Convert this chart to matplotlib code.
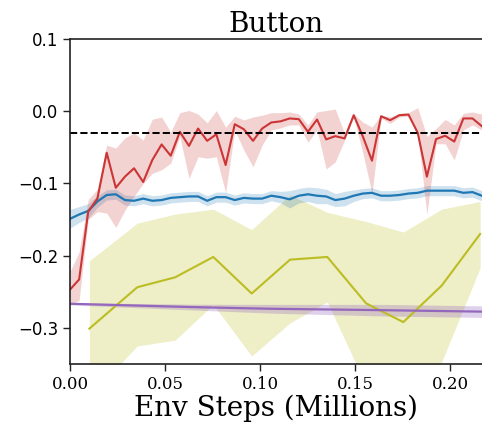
import matplotlib
matplotlib.use("Agg")
import matplotlib.pyplot as plt
import numpy as np

# Evaluation steps (millions) for the dense runs
steps = [0.0000, 0.0048, 0.0096, 0.0144, 0.0193, 0.0241, 0.0289, 0.0337,
         0.0385, 0.0433, 0.0482, 0.0530, 0.0578, 0.0626, 0.0674, 0.0722,
         0.0770, 0.0819, 0.0867, 0.0915, 0.0963, 0.1011, 0.1059, 0.1108,
         0.1156, 0.1204, 0.1252, 0.1300, 0.1348, 0.1396, 0.1445, 0.1493,
         0.1541, 0.1589, 0.1637, 0.1685, 0.1733, 0.1781, 0.1830, 0.1878,
         0.1926, 0.1974, 0.2022, 0.2070, 0.2118, 0.2167]

red_mean = [-0.247, -0.233, -0.139, -0.121, -0.0575, -0.106, -0.0906, -0.079,
            -0.098, -0.0676, -0.046, -0.0616, -0.0285, -0.048, -0.024, -0.041,
            -0.032, -0.0745, -0.018, -0.025, -0.041, -0.024, -0.0156, -0.014,
            -0.010, -0.011, -0.0285, -0.0115, -0.039, -0.0345, -0.0377, -0.0055,
            -0.035, -0.0685, -0.0069, -0.0124, -0.0055, -0.0046, -0.030, -0.0906,
            -0.0386, -0.034, -0.042, -0.010, -0.010, -0.0207]
red_upper = [-0.222, -0.195, -0.122, -0.108, -0.047, -0.051, -0.037, -0.030,
             -0.040, -0.011, -0.008, -0.029, -0.002, 0.001, -0.004, -0.016,
             0.001, -0.022, -0.007, -0.012, -0.008, -0.0055, -0.002, -0.002,
             -0.001, -0.004, -0.019, -0.001, 0.001, 0.003, -0.031, -0.004,
             -0.015, -0.022, -0.0055, -0.008, -0.003, -0.002, 0.005, -0.035,
             -0.024, -0.0115, -0.019, -0.003, -0.001, -0.004]
red_lower = [-0.268, -0.262, -0.150, -0.139, -0.141, -0.161, -0.137, -0.118,
             -0.100, -0.086, -0.081, -0.072, -0.035, -0.093, -0.063, -0.065,
             -0.063, -0.113, -0.026, -0.054, -0.077, -0.047, -0.026, -0.023,
             -0.019, -0.019, -0.043, -0.026, -0.080, -0.070, -0.040, -0.008,
             -0.058, -0.1135, -0.0096, -0.017, -0.008, -0.007, -0.031, -0.143,
             -0.045, -0.045, -0.0676, -0.026, -0.019, -0.026]

blue_mean = [-0.149, -0.143, -0.138, -0.125, -0.116, -0.115, -0.123, -0.124,
             -0.121, -0.124, -0.123, -0.120, -0.119, -0.118, -0.118, -0.124,
             -0.119, -0.119, -0.123, -0.120, -0.121, -0.121, -0.117, -0.119,
             -0.122, -0.117, -0.115, -0.117, -0.118, -0.123, -0.121, -0.117,
             -0.114, -0.113, -0.117, -0.117, -0.116, -0.114, -0.113, -0.110,
             -0.110, -0.110, -0.110, -0.113, -0.112, -0.117]
blue_spread = [0.013, 0.011, 0.010, 0.008, 0.007, 0.007, 0.007, 0.007,
               0.007, 0.007, 0.007, 0.007, 0.007, 0.007, 0.007, 0.007,
               0.007, 0.007, 0.007, 0.007, 0.007, 0.007, 0.007, 0.008,
               0.012, 0.010, 0.010, 0.011, 0.010, 0.009, 0.010, 0.008,
               0.007, 0.007, 0.007, 0.007, 0.007, 0.007, 0.007, 0.007,
               0.007, 0.007, 0.007, 0.007, 0.007, 0.007]

# Sparse evaluations
olive_steps = [0.0102, 0.0354, 0.0553, 0.0754, 0.0956, 0.1158, 0.1354,
               0.1558, 0.1754, 0.1956, 0.2158]
olive_mean = [-0.301, -0.2437, -0.230, -0.2018, -0.2524, -0.2055, -0.2018,
              -0.266, -0.292, -0.2414, -0.170]
olive_upper = [-0.207, -0.155, -0.1425, -0.1356, -0.164, -0.116, -0.140,
               -0.1527, -0.1673, -0.1356, -0.125]
olive_lower = [-0.395, -0.325, -0.317, -0.2676, -0.339, -0.293, -0.264,
               -0.380, -0.417, -0.347, -0.217]

purple_steps = [0.0, 0.066, 0.105, 0.165, 0.2168]
purple_mean = [-0.2666, -0.2713, -0.2735, -0.2755, -0.2775]
purple_spread = [0.0015, 0.004, 0.006, 0.008, 0.008]

baseline = -0.03

RED = "#cc3535"
BLUE = "#1f77b4"
OLIVE = "#bcbd22"
PURPLE = "#9467bd"

fig = plt.figure(figsize=(4.82, 4.32), dpi=100)
ax = fig.add_axes([70 / 482, 68 / 432, 412 / 482, 325 / 432])

# Olive run
ax.fill_between(olive_steps, olive_lower, olive_upper, color=OLIVE, alpha=0.25, lw=0)
ax.plot(olive_steps, olive_mean, color=OLIVE, lw=1.5)

# Purple run
pm = np.array(purple_mean)
ps = np.array(purple_spread)
ax.fill_between(purple_steps, pm - ps, pm + ps, color=PURPLE, alpha=0.3, lw=0)
ax.plot(purple_steps, pm, color=PURPLE, lw=1.6)

# Blue run
bm = np.array(blue_mean)
bs = np.array(blue_spread)
ax.fill_between(steps, bm - bs, bm + bs, color=BLUE, alpha=0.22, lw=0)
ax.plot(steps, bm, color=BLUE, lw=1.6)

# Red run
ax.fill_between(steps, red_lower, red_upper, color=RED, alpha=0.22, lw=0)
ax.plot(steps, red_mean, color=RED, lw=1.5)

ax.axhline(baseline, color="black", ls="--", lw=1.4)

ax.set_xlim(0, 0.2168)
ax.set_ylim(-0.35, 0.1)
ax.set_xticks([0.0, 0.05, 0.10, 0.15, 0.20])
ax.set_xticklabels(["0.00", "0.05", "0.10", "0.15", "0.20"], family="DejaVu Serif")
ax.set_yticks([0.1, 0.0, -0.1, -0.2, -0.3])
ax.set_yticklabels(["0.1", "0.0", "\u22120.1", "\u22120.2", "\u22120.3"], family="DejaVu Sans")
ax.tick_params(labelsize=12, length=5, width=1, color="#222222")

for side in ("left", "bottom", "top"):
    ax.spines[side].set_color("#222222")
    ax.spines[side].set_linewidth(1.2)
ax.spines["right"].set_visible(False)

ax.set_title("Button", family="DejaVu Serif", fontsize=20, pad=5)
ax.set_xlabel("Env Steps (Millions)", family="DejaVu Serif", fontsize=20, labelpad=1)

fig.savefig("out.png", dpi=100)
